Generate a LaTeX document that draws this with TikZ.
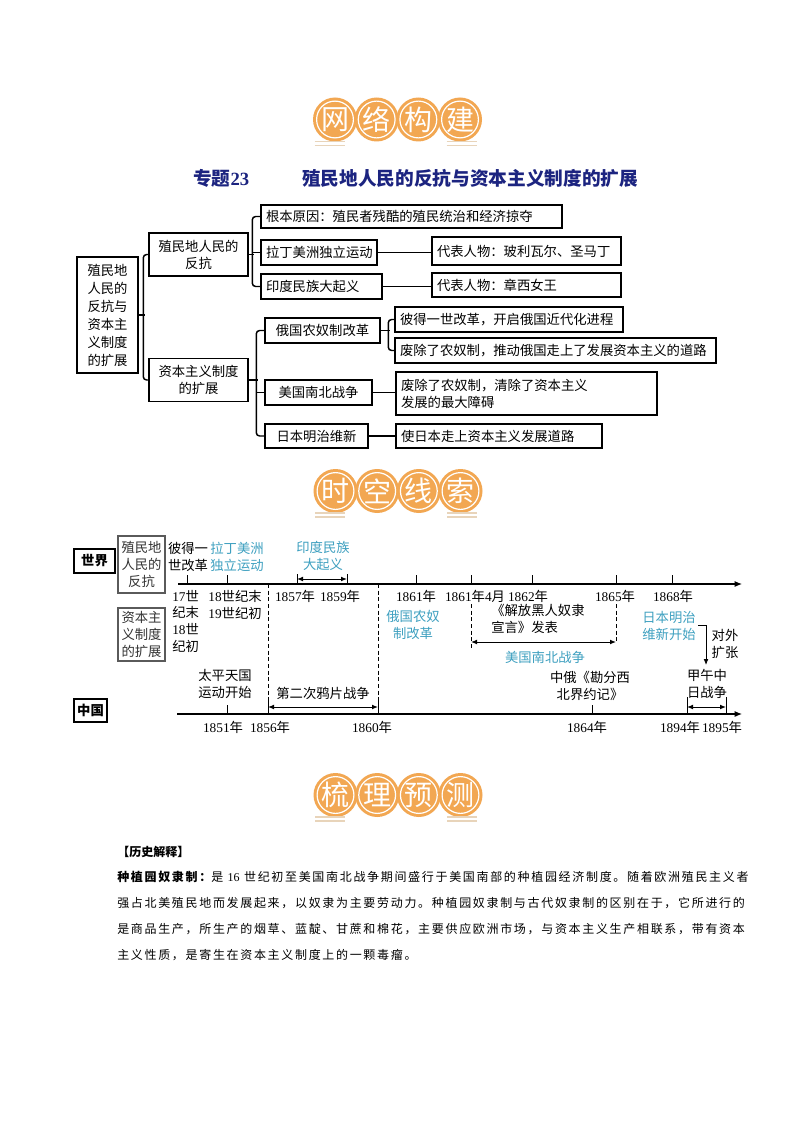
\documentclass[tikz,border=0pt]{standalone}
\usepackage{fontspec}
\setmainfont{Noto Sans CJK SC}
\newfontfamily\lat{Liberation Serif}
\newfontfamily\bodyf{Noto Sans CJK SC}[LetterSpace=14]
\usetikzlibrary{arrows.meta,calc}
\newdimen\px \px=0.75pt
\newcommand\pw[1]{\the\dimexpr #1\px\relax}
\definecolor{badgeor}{RGB}{242,167,82}
\definecolor{teal1}{RGB}{62,160,192}
\definecolor{navy1}{RGB}{28,36,128}
\definecolor{deco}{RGB}{232,212,186}
\definecolor{gbox}{RGB}{90,90,90}
\newcommand\tfont{\fontsize{10pt}{12.75pt}\selectfont}
\newcommand\yr[1]{{\lat #1}年}
\newcommand\mybadge[7]{%
  \foreach \k in {-62.5,-20.83,20.83,62.5}{\fill[badgeor] (#2+\k,#3) circle[radius=16.5pt];}
  \foreach \k in {-62.5,-20.83,20.83,62.5}{\draw[white,line width=0.9pt] (#2+\k,#3) circle[radius=13.8pt];}
  \node[bt] (#1a) at (#2-62.5,#3) {#4};
  \node[bt] (#1b) at (#2-20.83,#3) {#5};
  \node[bt] (#1c) at (#2+20.83,#3) {#6};
  \node[bt] (#1d) at (#2+62.5,#3) {#7};
  \draw[decoline] (#2-83,#3+22) -- (#2-53,#3+22);
  \draw[decoline] (#2-83,#3+26) -- (#2-53,#3+26);
  \draw[decoline] (#2+49,#3+22) -- (#2+79,#3+22);
  \draw[decoline] (#2+49,#3+26) -- (#2+79,#3+26);
}
\begin{document}
\begin{tikzpicture}[x=0.75pt,y=-0.75pt,
  bt/.style={text=white, font=\fontsize{21pt}{21pt}\selectfont, inner sep=0pt},
  decoline/.style={deco, line width=0.8pt},
  bx/.style={draw, line width=1.1pt, inner ysep=0pt, inner xsep=\pw{5}, font=\tfont, align=left},
  cn/.style={line width=1.1pt},
  tl/.style={font=\tfont, align=center, inner sep=0pt},
  tlt/.style={tl, text=teal1},
  tk/.style={line width=0.6pt},
  ax/.style={line width=0.8pt, -{Latex[length=5.5pt,width=4.5pt]}},
  da/.style={line width=0.7pt, {Latex[length=4.5pt,width=3.6pt]}-{Latex[length=4.5pt,width=3.6pt]}},
  dsh/.style={line width=0.6pt, dash pattern=on 3pt off 2pt},
  body/.style={anchor=west, inner sep=0pt, font=\bodyf\fontsize{9pt}{9pt}\selectfont}
]
\useasboundingbox (0,0) rectangle (794,1123);
\fill[white] (0,0) rectangle (794,1123);

% ---------- badges ----------
\mybadge{ba}{397.5}{119.5}{网}{络}{构}{建}
\mybadge{bb}{398}{491}{时}{空}{线}{索}
\mybadge{bc}{398}{795}{梳}{理}{预}{测}

% ---------- title ----------
\node[anchor=west, inner sep=0pt, text=navy1, font=\fontsize{14pt}{16pt}\selectfont\bfseries] (tA) at (193,178) {专题{\lat\bfseries 23}};
\node[anchor=west, inner sep=0pt, text=navy1, font=\fontsize{14pt}{16pt}\selectfont\bfseries] (tB) at (302,178) {殖民地人民的反抗与资本主义制度的扩展};

% ---------- tree ----------
\node[bx, align=center, text width=\pw{51}, minimum height=\pw{116}, font=\fontsize{10pt}{13.5pt}\selectfont] (root) at (107.5,315) {殖民地\\人民的\\反抗与\\资本主\\义制度\\的扩展};
\node[bx, align=center, text width=\pw{89}, minimum height=\pw{43}] (b1) at (198.5,254.5) {殖民地人民的\\反抗};
\node[bx, align=center, text width=\pw{89}, minimum height=\pw{43}] (b2) at (198.5,380) {资本主义制度\\的扩展};
\node[bx, text width=\pw{291}, minimum height=\pw{23}] (c1) at (411.5,216.5) {根本原因：殖民者残酷的殖民统治和经济掠夺};
\node[bx, text width=\pw{106}, minimum height=\pw{25}] (c2) at (319,252.5) {拉丁美洲独立运动};
\node[bx, text width=\pw{111}, minimum height=\pw{25}] (c3) at (321.5,286.5) {印度民族大起义};
\node[bx, text width=\pw{179}, minimum height=\pw{28}] (d2) at (526.5,251) {代表人物：玻利瓦尔、圣马丁};
\node[bx, text width=\pw{179}, minimum height=\pw{24}] (d3) at (526.5,285) {代表人物：章西女王};
\node[bx, align=center, text width=\pw{105}, minimum height=\pw{25}] (e1) at (322.5,330.5) {俄国农奴制改革};
\node[bx, align=center, text width=\pw{97}, minimum height=\pw{25}] (e2) at (318.5,392.5) {美国南北战争};
\node[bx, align=center, text width=\pw{93}, minimum height=\pw{24}] (e3) at (316.5,436) {日本明治维新};
\node[bx, text width=\pw{218}, minimum height=\pw{25}] (f1) at (509,319.5) {彼得一世改革，开启俄国近代化进程};
\node[bx, text width=\pw{311}, minimum height=\pw{25}] (f2) at (555.5,350.5) {废除了农奴制，推动俄国走上了发展资本主义的道路};
\node[bx, text width=\pw{251}, minimum height=\pw{43}] (g2) at (526.5,393.5) {废除了农奴制，清除了资本主义\\发展的最大障碍};
\node[bx, text width=\pw{196}, minimum height=\pw{24}] (g3) at (499,436) {使日本走上资本主义发展道路};

\draw[cn, rounded corners=2.5pt] (b1.west) -- ++(-5,0) |- (b2.west);
\draw[cn] (root.east) -- ++(6,0);
\draw[cn, rounded corners=2.5pt] (c1.west) -- ++(-8,0) |- (c3.west);
\draw[cn] (b1.east) -- ++(5,0);
\draw[cn] (c2.west) -- ++(-8,0);
\draw[cn] (c2.east) -- (c2.east -| d2.west);
\draw[cn] (c3.east) -- (c3.east -| d3.west);
\draw[cn, rounded corners=2.5pt] (e1.west) -- ++(-8,0) |- (e3.west);
\draw[cn] (b2.east) -- ++(9,0);
\draw[cn] (e2.west) -- ++(-8,0);
\draw[cn, rounded corners=2.5pt] (f1.west) -- ++(-6,0) |- (f2.west);
\draw[cn] (e1.east) -- ++(9,0);
\draw[cn] (e2.east) -- (e2.east -| g2.west);
\draw[cn] (e3.east) -- (e3.east -| g3.west);

% ---------- timeline: world ----------
\node[draw, line width=0.8pt, minimum width=\pw{41}, minimum height=\pw{24}, inner sep=0pt, font=\tfont\bfseries] (world) at (94.5,561) {世界};
\node[draw=gbox, line width=0.8pt, text=black!80, minimum width=\pw{47}, minimum height=\pw{57}, inner sep=0pt, tl] (wk1) at (141.5,564.5) {殖民地\\人民的\\反抗};
\node[draw=gbox, line width=0.8pt, text=black!80, minimum width=\pw{47}, minimum height=\pw{53}, inner sep=0pt, tl] (wk2) at (141.5,634.5) {资本主\\义制度\\的扩展};

\coordinate (wa) at (178,584);
\coordinate (wb) at (742,584);
\draw[ax] (wa) -- (wb);
\foreach \n/\x in {t1/187,t2/227,t3/416,t4/471,t5/532,t6/616,t7/672}{
  \coordinate (\n) at (\x,584);
  \draw[tk] (\n) -- ++(0,-9);
}
\coordinate (p1) at (297,584);
\coordinate (p2) at (347,584);
\draw[tk] (p1) -- ++(0,-10);
\draw[tk] (p2) -- ++(0,-10);
\draw[da] ($(p1)+(0,-5)$) -- ($(p2)+(0,-5)$);

\node[tl] (l1) at (188,556.5) {彼得一\\世改革};
\node[tlt] (l2) at (237,556.5) {拉丁美洲\\独立运动};
\node[tlt] (l3) at (323,555.5) {印度民族\\大起义};
\node[tl, align=left, font=\fontsize{10pt}{12.5pt}\selectfont, anchor=west] (l4) at (172,621) {{\lat 17}世\\纪末\\{\lat 18}世\\纪初};
\node[tl] (l5) at (235,604.5) {{\lat 18}世纪末\\{\lat 19}世纪初};
\node[tl] (l6) at (295,596) {\yr{1857}};
\node[tl] (l7) at (340,596) {\yr{1859}};
\node[tl] (l8) at (416,596) {\yr{1861}};
\node[tlt] (l9) at (413,625) {俄国农奴\\制改革};
\node[tl] (l10) at (475,596) {{\lat 1861}年{\lat 4}月};
\node[tl] (l11) at (528,596) {\yr{1862}};
\node[tl, align=left, anchor=west] (l12) at (491,619) {《解放黑人奴隶\\宣言》发表};
\node[tl] (l13) at (615,596) {\yr{1865}};
\node[tl] (l14) at (673,596) {\yr{1868}};
\node[tlt] (l15) at (669,626) {日本明治\\维新开始};
\node[tl] (l16) at (725,643.5) {对外\\扩张};
\node[tlt] (l17) at (545,657) {美国南北战争};

\coordinate (d1a) at (268,584); \coordinate (d1b) at (268,714);
\coordinate (d2a) at (378,584); \coordinate (d2b) at (378,714);
\draw[dsh] (d1a) -- (d1b);
\draw[dsh] (d2a) -- (d2b);
\coordinate (d3a) at (471,604); \coordinate (d3b) at (471,648);
\coordinate (d4a) at (616,604); \coordinate (d4b) at (616,642);
\draw[dsh] (d3a) -- (d3b);
\draw[dsh] (d4a) -- (d4b);
\coordinate (u1) at (471,642); \coordinate (u2) at (616,642);
\draw[da] (u1) -- (u2);
\coordinate (k1) at (698,625); \coordinate (k2) at (706,625); \coordinate (k3) at (706,665);
\draw[tk, -{Latex[length=4.5pt,width=3.6pt]}] (k1) -- (k2) -- (k3);

% ---------- timeline: China ----------
\node[draw, line width=0.8pt, minimum width=\pw{33}, minimum height=\pw{23}, inner sep=0pt, font=\tfont\bfseries] (china) at (90.5,710.5) {中国};
\coordinate (ca) at (177,714);
\coordinate (cb) at (742,714);
\draw[ax] (ca) -- (cb);
\coordinate (s1) at (227,714); \draw[tk] (s1) -- ++(0,-9);
\coordinate (s2) at (592,714); \draw[tk] (s2) -- ++(0,-9);
\foreach \n/\x in {q1/268,q2/378,q3/687,q4/726}{
  \coordinate (\n) at (\x,714);
  \draw[tk] (\n) -- ++(0,-17);
}
\draw[da] ($(q1)+(0,-7)$) -- ($(q2)+(0,-7)$);
\draw[da] ($(q3)+(0,-7)$) -- ($(q4)+(0,-7)$);
\node[tl] (m1) at (225,684) {太平天国\\运动开始};
\node[tl] (m2) at (323,693) {第二次鸦片战争};
\node[tl] (m3) at (590,686) {中俄《勘分西\\北界约记》};
\node[tl] (m4) at (707,684) {甲午中\\日战争};
\node[tl] (n1) at (223,727) {\yr{1851}};
\node[tl] (n2) at (270,727) {\yr{1856}};
\node[tl] (n3) at (372,727) {\yr{1860}};
\node[tl] (n4) at (587,727) {\yr{1864}};
\node[tl] (n5) at (680,727) {\yr{1894}};
\node[tl] (n6) at (722,727) {\yr{1895}};

% ---------- body text ----------
\node[anchor=west, inner sep=0pt, font=\fontsize{9pt}{9pt}\selectfont\bfseries] (h0) at (117,852) {【历史解释】};
\node[body] (h1) at (117,877) {{\bfseries 种植园奴隶制：}是 {\lat 16} 世纪初至美国南北战争期间盛行于美国南部的种植园经济制度。随着欧洲殖民主义者};
\node[body] (h2) at (117,903) {强占北美殖民地而发展起来，以奴隶为主要劳动力。种植园奴隶制与古代奴隶制的区别在于，它所进行的};
\node[body] (h3) at (117,929) {是商品生产，所生产的烟草、蓝靛、甘蔗和棉花，主要供应欧洲市场，与资本主义生产相联系，带有资本};
\node[body] (h4) at (117,955) {主义性质，是寄生在资本主义制度上的一颗毒瘤。};
\end{tikzpicture}
\end{document}
